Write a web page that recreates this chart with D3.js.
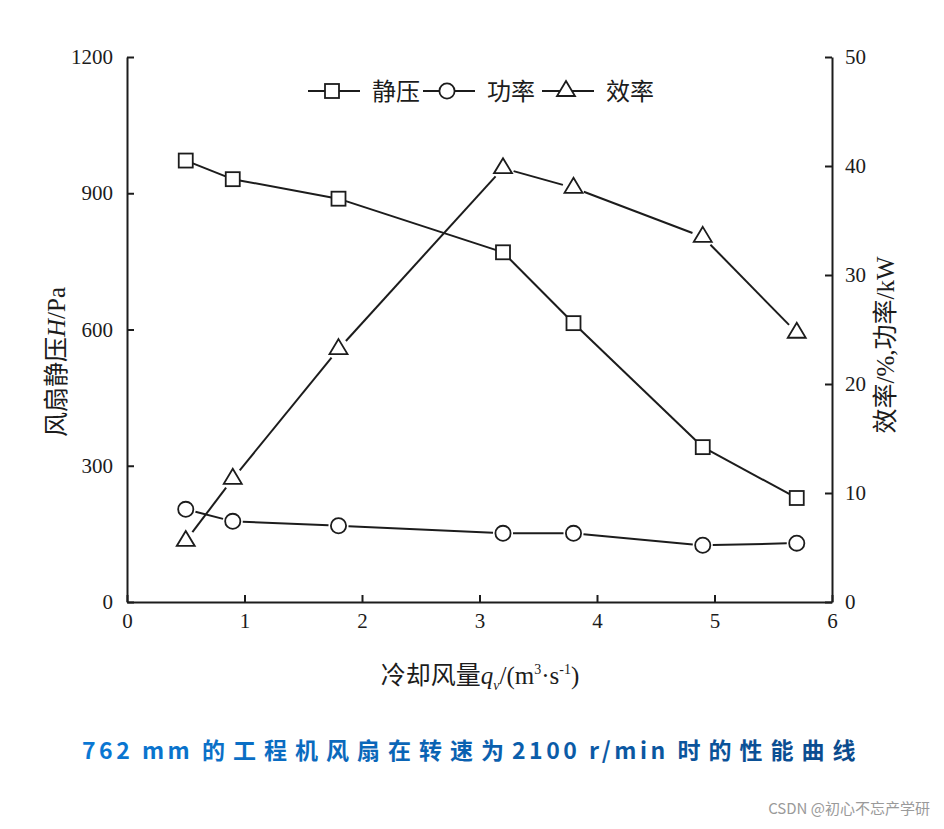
<!DOCTYPE html>
<html>
<head>
<meta charset="utf-8">
<script src="https://cdn.jsdelivr.net/npm/d3@7/dist/d3.min.js"></script>
<style>
  html, body { margin: 0; padding: 0; background: #fff; }
  svg { display: block; }
</style>
</head>
<body>
<svg id="chart" width="944" height="829"></svg>
<script>
// ---- data ----
const flow = [0.5, 0.9, 1.8, 3.2, 3.8, 4.9, 5.7];          // 冷却风量 m3/s
const pressure = [972, 931, 888, 770, 614, 341, 229];     // 静压 Pa (left axis)
const power = [8.5, 7.4, 7.0, 6.3, 6.3, 5.2, 5.4];        // 功率 kW (right axis)
const efficiency = [5.6, 11.3, 23.2, 39.8, 38.0, 33.5, 24.7]; // 效率 % (right axis)
const xTicks = [0, 1, 2, 3, 4, 5, 6];
const leftTicks = [0, 300, 600, 900, 1200];
const rightTicks = [0, 10, 20, 30, 40, 50];
const legendNames = ["静压", "功率", "效率"];
const titleParts = ["762 mm ", "的工程机风扇在转速为", "2100 r/min ", "时的性能曲线"];
const watermark = "CSDN @初心不忘产学研";

// ---- layout ----
const svg = d3.select("#chart");
const ink = "#1c1c1c";
const serif = "'Liberation Serif', 'Times New Roman', 'Noto Sans CJK SC', serif";
const L = 127, R = 832, T = 57, B = 602;

const x = d3.scaleLinear().domain([0, 6]).range([L, R]);
const yL = d3.scaleLinear().domain([0, 1200]).range([B, T]);
const yR = d3.scaleLinear().domain([0, 50]).range([B, T]);

function styleAxis(g) {
  g.selectAll("path.domain").attr("stroke", ink).attr("stroke-width", 2);
  g.selectAll(".tick line").attr("stroke", ink).attr("stroke-width", 2);
  g.selectAll(".tick text").attr("fill", ink).style("font-family", serif).style("font-size", "21px");
}

svg.append("g").attr("transform", `translate(0,${B})`)
  .call(d3.axisBottom(x).tickValues(xTicks).tickFormat(d3.format("d")).tickSizeInner(-7).tickSizeOuter(0).tickPadding(11))
  .call(styleAxis);
svg.append("g").attr("transform", `translate(${L},0)`)
  .call(d3.axisLeft(yL).tickValues(leftTicks).tickFormat(d3.format("d")).tickSizeInner(-7).tickSizeOuter(0).tickPadding(14))
  .call(styleAxis);
svg.append("g").attr("transform", `translate(${R},0)`)
  .call(d3.axisRight(yR).tickValues(rightTicks).tickFormat(d3.format("d")).tickSizeInner(-7).tickSizeOuter(0).tickPadding(13))
  .call(styleAxis);

// ---- axis titles ----
const yt = svg.append("text")
  .attr("transform", `translate(65,362) rotate(-90)`)
  .attr("text-anchor", "middle").attr("fill", ink)
  .style("font-family", serif).style("font-size", "25px");
yt.append("tspan").text("风扇静压");
yt.append("tspan").attr("font-style", "italic").text("H");
yt.append("tspan").text("/Pa");

const yrt = svg.append("text")
  .attr("transform", `translate(894,345) rotate(-90)`)
  .attr("text-anchor", "middle").attr("fill", ink)
  .style("font-family", serif).style("font-size", "25px");
yrt.text("效率/%,功率/kW");

const xt = svg.append("text")
  .attr("x", 480).attr("y", 684)
  .attr("text-anchor", "middle").attr("fill", ink)
  .style("font-family", serif).style("font-size", "25px");
xt.append("tspan").text("冷却风量");
xt.append("tspan").attr("font-style", "italic").text("q");
xt.append("tspan").attr("font-size", "14px").attr("font-style", "italic").attr("dy", 6).text("v");
xt.append("tspan").attr("dy", -6).text("/(m");
xt.append("tspan").attr("font-size", "14px").attr("dy", -10).text("3");
xt.append("tspan").attr("dy", 10).text("·s");
xt.append("tspan").attr("font-size", "14px").attr("dy", -10).text("-1");
xt.append("tspan").attr("dy", 10).text(")");

// ---- markers ----
function drawMarker(g, type, cx, cy) {
  if (type === "square") {
    g.append("rect").attr("x", cx - 7).attr("y", cy - 7).attr("width", 14).attr("height", 14)
      .attr("fill", "#fff").attr("stroke", ink).attr("stroke-width", 1.8);
  } else if (type === "circle") {
    g.append("circle").attr("cx", cx).attr("cy", cy).attr("r", 7.6)
      .attr("fill", "#fff").attr("stroke", ink).attr("stroke-width", 1.8);
  } else {
    const h = 15, w = 18;
    g.append("path")
      .attr("d", `M${cx},${cy - h * 2 / 3}L${cx + w / 2},${cy + h / 3}L${cx - w / 2},${cy + h / 3}Z`)
      .attr("fill", "#fff").attr("stroke", ink).attr("stroke-width", 1.8).attr("stroke-linejoin", "miter");
  }
}

const series = [
  { values: pressure, scale: yL, type: "square", gap: 7 },
  { values: power, scale: yR, type: "circle", gap: 10 },
  { values: efficiency, scale: yR, type: "triangle", gap: 11 }
];

const plot = svg.append("g");
series.forEach(s => {
  const pts = flow.map((f, i) => [x(f), s.scale(s.values[i])]);
  const lg = plot.append("g");
  for (let i = 0; i < pts.length - 1; i++) {
    const [x1, y1] = pts[i], [x2, y2] = pts[i + 1];
    const dx = x2 - x1, dy = y2 - y1, len = Math.hypot(dx, dy);
    const ux = dx / len, uy = dy / len;
    lg.append("line")
      .attr("x1", x1 + ux * s.gap).attr("y1", y1 + uy * s.gap)
      .attr("x2", x2 - ux * s.gap).attr("y2", y2 - uy * s.gap)
      .attr("stroke", ink).attr("stroke-width", 2);
  }
  const mg = plot.append("g");
  pts.forEach(p => drawMarker(mg, s.type, p[0], p[1]));
});

// ---- legend ----
const legend = svg.append("g").attr("transform", "translate(308,91)");
const types = ["square", "circle", "triangle"];
const itemStarts = [0, 115, 234];
legendNames.forEach((name, i) => {
  const g = legend.append("g").attr("transform", `translate(${itemStarts[i]},0)`);
  g.append("line").attr("x1", 0).attr("x2", 52).attr("y1", 0).attr("y2", 0)
    .attr("stroke", ink).attr("stroke-width", 2);
  drawMarker(g, types[i], 24, 0);
  g.append("text").attr("x", 64).attr("y", 9).attr("fill", ink)
    .style("font-family", serif).style("font-size", "24px").text(name);
});

// ---- title ----
const defs = svg.append("defs");
const grad = defs.append("linearGradient").attr("id", "tg")
  .attr("gradientUnits", "userSpaceOnUse").attr("x1", 80).attr("x2", 860).attr("y1", 0).attr("y2", 0);
grad.append("stop").attr("offset", "0%").attr("stop-color", "#0a78d4");
grad.append("stop").attr("offset", "100%").attr("stop-color", "#0b4a8c");
const title = svg.append("text")
  .attr("x", 82).attr("y", 759)
  .attr("fill", "url(#tg)")
  .style("font-family", "'Noto Sans CJK SC', 'Noto Sans', sans-serif")
  .style("font-size", "23px").style("font-weight", "bold");
titleParts.forEach((p, i) => {
  title.append("tspan").style("letter-spacing", i % 2 === 0 ? "3.5px" : "8px").text(p);
});

svg.append("text")
  .attr("x", 930).attr("y", 814).attr("text-anchor", "end")
  .attr("fill", "#9a9a9a")
  .style("font-family", "'Noto Sans CJK SC', 'Noto Sans', sans-serif")
  .style("font-size", "15px")
  .text(watermark);
</script>
</body>
</html>
